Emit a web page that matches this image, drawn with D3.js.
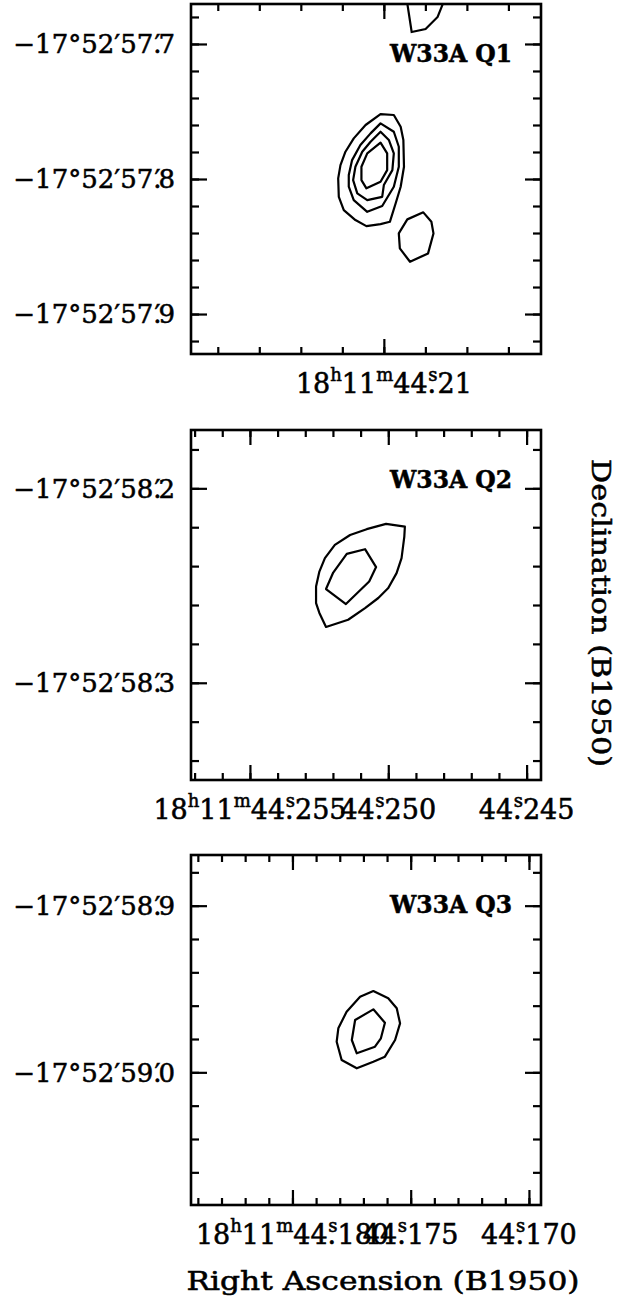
<!DOCTYPE html>
<html>
<head>
<meta charset="utf-8">
<script src="https://cdn.jsdelivr.net/npm/d3@7"></script>
<style>
  body { margin: 0; background: #fff; }
  text { font-family: "DejaVu Serif", serif; fill: #000; stroke: #000; stroke-width: 0.55px; }
</style>
</head>
<body>
<div id="chart"></div>
<script>
// one entry per panel, top to bottom
const panelNames = ["W33A Q1", "W33A Q2", "W33A Q3"];
// RA = seconds after 18h11m, Dec = arcsec after -17d52'
const raRanges = [[44.21929, 44.20243], [44.25713, 44.24448], [44.18429, 44.16949]];
const decRanges = [[57.6704, 57.9296], [58.17, 58.35], [58.8696, 59.0796]];
const raMajor = [[44.21], [44.255, 44.250, 44.245], [44.180, 44.175, 44.170]];
const raLabels = [["44.21"], ["44.255", "44.250", "44.245"], ["44.180", "44.175", "44.170"]];
const raMinorStep = [0.002, 0.001, 0.001];
const decMajor = [[57.7, 57.8, 57.9], [58.2, 58.3], [58.9, 59.0]];
const decLabels = [["57.7", "57.8", "57.9"], ["58.2", "58.3"], ["58.9", "59.0"]];
const decMinorStep = 0.02;

// contour polygons, [ra, dec]
const q1Contours = [
  [[44.21016, 57.7519], [44.20952, 57.7526], [44.20919, 57.7613], [44.20906, 57.7711], [44.20903, 57.7909],
   [44.20919, 57.8057], [44.20943, 57.8180], [44.20971, 57.8317], [44.21016, 57.8334], [44.21084, 57.8349],
   [44.21137, 57.8304], [44.21193, 57.8230], [44.21217, 57.8132], [44.21220, 57.7995], [44.21209, 57.7897],
   [44.21185, 57.7798], [44.21145, 57.7699], [44.21088, 57.7600]],
  [[44.21016, 57.7588], [44.20952, 57.7650], [44.20928, 57.7761], [44.20928, 57.7909], [44.20952, 57.8057],
   [44.21008, 57.8200], [44.21080, 57.8243], [44.21145, 57.8156], [44.21169, 57.8057], [44.21169, 57.7971],
   [44.21153, 57.7860], [44.21113, 57.7748], [44.21064, 57.7662]],
  [[44.21016, 57.7650], [44.20976, 57.7711], [44.20952, 57.7810], [44.20959, 57.7934], [44.21000, 57.8045],
   [44.21008, 57.8132], [44.21080, 57.8156], [44.21128, 57.8106], [44.21148, 57.8008], [44.21137, 57.7909],
   [44.21104, 57.7798], [44.21064, 57.7724]],
  [[44.21016, 57.7731], [44.20984, 57.7810], [44.20984, 57.7934], [44.21016, 57.8020], [44.21084, 57.8069],
   [44.21108, 57.8008], [44.21108, 57.7909], [44.21080, 57.7810]],
  [[44.20810, 57.8247], [44.20771, 57.8317], [44.20761, 57.8403], [44.20787, 57.8551], [44.20874, 57.8613],
   [44.20923, 57.8514], [44.20928, 57.8403], [44.20887, 57.8299]]
];
// piece of a contour cut by the top of the Q1 frame
const q1Open = [[44.20890, 57.6659], [44.20886, 57.6711], [44.20866, 57.6911], [44.20799, 57.6889],
  [44.20741, 57.6800], [44.20716, 57.6704], [44.20706, 57.6652]];

const q2Contours = [
  [[44.25008, 58.2183], [44.24940, 58.2197], [44.24942, 58.2248], [44.24952, 58.2359], [44.24970, 58.2436],
   [44.25000, 58.2513], [44.25036, 58.2564], [44.25084, 58.2616], [44.25145, 58.2676], [44.25225, 58.2713],
   [44.25249, 58.2641], [44.25261, 58.2590], [44.25261, 58.2505], [44.25249, 58.2428], [44.25229, 58.2359],
   [44.25193, 58.2291], [44.25138, 58.2240], [44.25078, 58.2210]],
  [[44.25084, 58.2313], [44.25044, 58.2405], [44.25069, 58.2479], [44.25153, 58.2595], [44.25225, 58.2518],
   [44.25199, 58.2433], [44.25150, 58.2337]]
];

const q3Contours = [
  [[44.17658, 58.9512], [44.17595, 58.9556], [44.17559, 58.9616], [44.17545, 58.9706], [44.17566, 58.9806],
   [44.17609, 58.9906], [44.17658, 58.9936], [44.17728, 58.9976], [44.17792, 58.9926], [44.17813, 58.9816],
   [44.17806, 58.9736], [44.17771, 58.9636], [44.17714, 58.9546]],
  [[44.17658, 58.9622], [44.17609, 58.9702], [44.17626, 58.9796], [44.17651, 58.9846], [44.17728, 58.9886],
   [44.17749, 58.9806], [44.17735, 58.9686]]
];

const contours = [q1Contours, q2Contours, q3Contours];
const openLines = [[q1Open], [], []];

const width = 617, height = 1299;
const left = 191, panelW = 350, panelH = 350;
const panelTops = [4, 430, 855];

const svg = d3.select("#chart").append("svg")
  .attr("width", width)
  .attr("height", height);

function minorTicks(range, step) {
  const lo = Math.min(range[0], range[1]), hi = Math.max(range[0], range[1]);
  return d3.range(Math.ceil(lo / step - 1e-6), Math.floor(hi / step + 1e-6) + 1).map(i => +(i * step).toFixed(5));
}

// text with raised pieces: parts = [[string, isSup, dx]]
function richText(t, parts) {
  let raised = false;
  parts.forEach(([s, sup, dx]) => {
    const ts = t.append("tspan").text(s);
    if (sup && !raised) { ts.attr("dy", -12).attr("font-size", 18); raised = true; }
    else if (sup) ts.attr("font-size", 18);
    else if (raised) { ts.attr("dy", 12); raised = false; }
    if (dx) ts.attr("dx", dx);
  });
}

panelNames.forEach((name, i) => {
  const g = svg.append("g").attr("transform", `translate(${left},${panelTops[i]})`);
  const x = d3.scaleLinear().domain(raRanges[i]).range([0, panelW]);
  const y = d3.scaleLinear().domain(decRanges[i]).range([0, panelH]);

  g.append("clipPath").attr("id", "clip" + i)
    .append("rect").attr("width", panelW).attr("height", panelH);

  // contours
  const line = d3.line().x(d => x(d[0])).y(d => y(d[1]));
  const plot = g.append("g").attr("clip-path", `url(#clip${i})`);
  plot.selectAll("path.closed")
    .data(contours[i])
    .join("path")
    .attr("class", "closed")
    .attr("d", line.curve(d3.curveLinearClosed))
    .attr("fill", "none")
    .attr("stroke", "#000")
    .attr("stroke-width", 2.2)
    .attr("stroke-linejoin", "round");
  plot.selectAll("path.open")
    .data(openLines[i])
    .join("path")
    .attr("class", "open")
    .attr("d", d3.line().x(d => x(d[0])).y(d => y(d[1])))
    .attr("fill", "none")
    .attr("stroke", "#000")
    .attr("stroke-width", 2.2);

  // ticks on all four sides, pointing inward
  const raMinor = minorTicks(raRanges[i], raMinorStep[i]);
  const decMinor = minorTicks(decRanges[i], decMinorStep);
  const axes = [
    [d3.axisBottom(x).tickValues(raMinor).tickSize(-7), `translate(0,${panelH})`],
    [d3.axisBottom(x).tickValues(raMajor[i]).tickSize(-15), `translate(0,${panelH})`],
    [d3.axisTop(x).tickValues(raMinor).tickSize(-7), null],
    [d3.axisTop(x).tickValues(raMajor[i]).tickSize(-15), null],
    [d3.axisLeft(y).tickValues(decMinor).tickSize(-8), null],
    [d3.axisLeft(y).tickValues(decMajor[i]).tickSize(-16), null],
    [d3.axisRight(y).tickValues(decMinor).tickSize(-8), `translate(${panelW},0)`],
    [d3.axisRight(y).tickValues(decMajor[i]).tickSize(-16), `translate(${panelW},0)`]
  ];
  axes.forEach(([ax, tr]) => {
    const a = g.append("g").call(ax.tickFormat("").tickSizeOuter(0));
    if (tr) a.attr("transform", tr);
    a.select(".domain").remove();
    a.selectAll(".tick line").attr("stroke", "#000").attr("stroke-width", 2.2);
  });

  g.append("rect")
    .attr("width", panelW)
    .attr("height", panelH)
    .attr("fill", "none")
    .attr("stroke", "#000")
    .attr("stroke-width", 2.6);

  // RA labels
  raLabels[i].forEach((lab, k) => {
    const [sec, frac] = lab.split(".");
    const t = g.append("text")
      .attr("x", x(raMajor[i][k]))
      .attr("y", panelH + 39)
      .attr("text-anchor", "middle")
      .attr("font-size", 27);
    const parts = [];
    if (k === 0) parts.push(["18"], ["h", true], ["11"], ["m", true]);
    parts.push([sec + "."], ["s", true, -8], [frac]);
    richText(t, parts);
  });

  // Dec labels
  decLabels[i].forEach((lab, k) => {
    const [sec, frac] = lab.split(".");
    const t = g.append("text")
      .attr("x", -16)
      .attr("y", y(decMajor[i][k]))
      .attr("dy", "0.36em")
      .attr("text-anchor", "end")
      .attr("font-size", 26);
    t.append("tspan").text("\u221217\u00b052\u2032" + sec + ".");
    t.append("tspan").attr("dx", -7).text("\u2032");
    t.append("tspan").attr("dx", -2).text(frac);
  });

  g.append("text")
    .attr("x", panelW - 29)
    .attr("y", 58)
    .attr("text-anchor", "end")
    .attr("font-size", 24)
    .attr("font-weight", "bold")
    .attr("textLength", 122)
    .attr("lengthAdjust", "spacingAndGlyphs")
    .text(name);
});

svg.append("text")
  .attr("x", 383)
  .attr("y", 1290)
  .attr("text-anchor", "middle")
  .attr("font-size", 26)
  .attr("textLength", 393)
  .attr("lengthAdjust", "spacingAndGlyphs")
  .text("Right Ascension (B1950)");

svg.append("text")
  .attr("transform", "translate(592,613) rotate(90)")
  .attr("text-anchor", "middle")
  .attr("font-size", 26)
  .attr("textLength", 308)
  .attr("lengthAdjust", "spacingAndGlyphs")
  .text("Declination (B1950)");
</script>
</body>
</html>
